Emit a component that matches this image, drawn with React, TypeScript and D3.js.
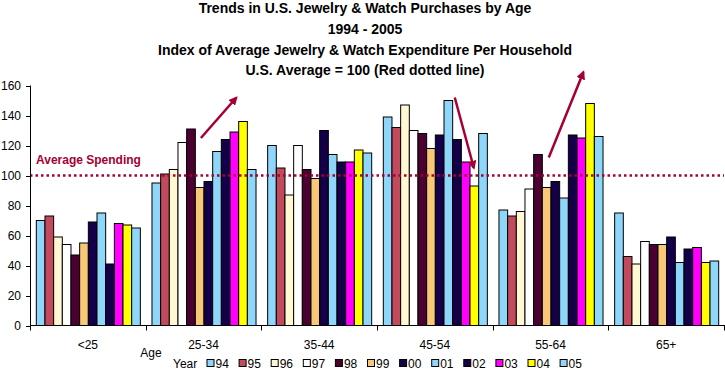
import React from 'react';
import * as d3 from 'd3';

const AGES = ['<25', '25-34', '35-44', '45-54', '55-64', '65+'];
const YEARS = ['94', '95', '96', '97', '98', '99', '00', '01', '02', '03', '04', '05'];
const COLORS = ['#8ED6FA', '#C24A5C', '#FFF8D2', '#FFFFFF', '#4A0030', '#F8C878',
  '#140048', '#8ED6FA', '#140048', '#FF00FF', '#FFFF00', '#8ED6FA'];

// index values per age group, one entry per year 94..05
const V_LT25 = [70, 73, 59, 54, 47, 55, 69, 75, 41, 68, 67, 65];
const V_25_34 = [95, 101, 104, 122, 131, 92, 96, 116, 124, 129, 136, 104];
const V_35_44 = [120, 105, 87, 120, 104, 98, 130, 114, 109, 109, 117, 115];
const V_45_54 = [139, 132, 147, 130, 128, 118, 127, 150, 124, 109, 93, 128];
const V_55_64 = [77, 73, 76, 91, 114, 92, 96, 85, 127, 125, 148, 126];
const V_65 = [75, 46, 41, 56, 54, 54, 59, 42, 51, 52, 42, 43];
const SERIES = [V_LT25, V_25_34, V_35_44, V_45_54, V_55_64, V_65];

const Y_TICKS = [0, 20, 40, 60, 80, 100, 120, 140, 160];
const AVERAGE = 100;

const TITLES = [
  'Trends in U.S. Jewelry & Watch Purchases by Age',
  '1994 - 2005',
  'Index of Average Jewelry & Watch Expenditure Per Household',
  'U.S. Average = 100 (Red dotted line)',
];

// arrows in data space: group, bar position (fractional), value
const ARROWS = [
  { group: '25-34', x1: 5.7, y1: 125, x2: 9.8, y2: 152 },
  { group: '45-54', x1: 8.3, y1: 152, x2: 10.5, y2: 105 },
  { group: '55-64', x1: 5.8, y1: 112, x2: 9.8, y2: 169 },
];

const FONT = 'Arial, "Liberation Sans", sans-serif';
const RED = '#A50034';

export default function App() {
  const width = 725;
  const height = 371;
  const left = 30;
  const right = 724;
  const top = 85.5;
  const bottom = 325.5;

  const x0 = d3.scaleBand().domain(AGES).range([left, right]);
  const x1 = d3.scaleBand().domain(YEARS).range([0, x0.bandwidth()]).paddingOuter(0.67);
  const y = d3.scaleLinear().domain([0, 160]).range([bottom, top]);

  const barX = (g: string, pos: number) => (x0(g) as number) + (x1(YEARS[0]) as number) + pos * x1.step();

  return (
    <svg width={width} height={height} style={{ position: 'absolute', left: 0, top: 0 }} fontFamily={FONT}>
      <defs>
        <marker id="ah" viewBox="0 0 10 10" refX="8" refY="5" markerWidth="3.6" markerHeight="3.6" orient="auto">
          <path d="M0,0 L10,5 L0,10 z" fill={RED} />
        </marker>
      </defs>
      <rect width={width} height={height} fill="#fff" />

      {TITLES.map((t, i) => (
        <text key={t} x={365} y={13 + i * 20.8} textAnchor="middle" fontSize={14} fontWeight="bold" fill="#000">
          {t}
        </text>
      ))}

      {/* bars */}
      {AGES.map((g, gi) => (
        <g key={g} transform={`translate(${x0(g)},0)`}>
          {YEARS.map((yr, i) => (
            <rect
              key={yr}
              x={(x1(yr) as number) + 0.5}
              y={y(SERIES[gi][i])}
              width={x1.bandwidth()}
              height={bottom - y(SERIES[gi][i])}
              fill={COLORS[i]}
              stroke="#000"
              strokeWidth={1}
            />
          ))}
        </g>
      ))}

      {/* average line */}
      <line x1={left} x2={right} y1={y(AVERAGE)} y2={y(AVERAGE)} stroke={RED} strokeWidth={2.5} strokeDasharray="2.5 3" />
      <text x={36} y={164} fontSize={12} fontWeight="bold" fill={RED}>Average Spending</text>

      {/* arrows */}
      {ARROWS.map((a, i) => (
        <line
          key={i}
          x1={barX(a.group, a.x1)}
          y1={y(a.y1)}
          x2={barX(a.group, a.x2)}
          y2={y(a.y2)}
          stroke={RED}
          strokeWidth={2.5}
          markerEnd="url(#ah)"
        />
      ))}

      {/* y axis */}
      <line x1={left + 0.5} x2={left + 0.5} y1={top} y2={bottom} stroke="#000" />
      {Y_TICKS.map((t) => (
        <g key={t}>
          <line x1={left - 4} x2={left} y1={Math.round(y(t)) + 0.5} y2={Math.round(y(t)) + 0.5} stroke="#000" />
          <text x={21} y={y(t) + 4.5} textAnchor="end" fontSize={12} fill="#000">{t}</text>
        </g>
      ))}

      {/* x axis */}
      <line x1={left} x2={right + 1} y1={bottom} y2={bottom} stroke="#000" />
      {[...AGES.map((g) => x0(g) as number), right].map((px, i) => (
        <line key={i} x1={Math.round(px) + 0.5} x2={Math.round(px) + 0.5} y1={bottom} y2={bottom + 5} stroke="#000" />
      ))}
      {AGES.map((g) => (
        <text key={g} x={(x0(g) as number) + x0.bandwidth() / 2} y={349} textAnchor="middle" fontSize={12} fill="#000">
          {g}
        </text>
      ))}
      <text x={151} y={357} textAnchor="middle" fontSize={12} fill="#000">Age</text>

      {/* legend */}
      <text x={173} y={368} fontSize={12} fill="#000">Year</text>
      {YEARS.map((yr, i) => (
        <g key={yr} transform={`translate(${206.5 + i * 32.1},0)`}>
          <rect x={0.5} y={359.5} width={7} height={7} fill={COLORS[i]} stroke="#000" />
          <text x={9} y={368} fontSize={12} fill="#000">{yr}</text>
        </g>
      ))}
    </svg>
  );
}
